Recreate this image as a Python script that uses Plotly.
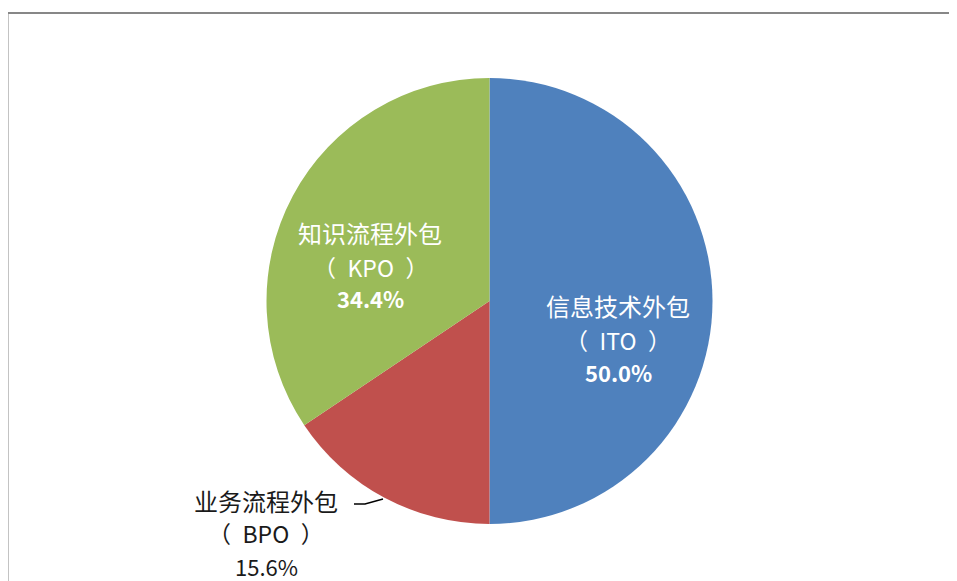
import plotly.graph_objects as go

labels = ["信息技术外包", "业务流程外包", "知识流程外包"]
abbrs = ["ITO", "BPO", "KPO"]
values = [50.0, 15.6, 34.4]
colors = ["#4F81BD", "#C0504D", "#9BBB59"]

OFF = 8  # page body margin offset
W, H = 957 - OFF, 581 - OFF
def px(x):
    return (x - OFF) / W
def py(y):
    return 1 - (y - OFF) / H

fig = go.Figure(go.Pie(
    labels=labels, values=values, sort=False, direction="clockwise", rotation=0,
    marker=dict(colors=colors, line=dict(width=0)),
    textinfo="none", showlegend=False,
    domain=dict(x=[px(489.5 - 223), px(489.5 + 223)], y=[py(524), py(78)]),
))

# label positions (pixel centres) and styling per slice
label_pos = [(618, [305, 340, 372]), (266, [500, 533, 566]), (370, [232, 267, 298])]
label_col = ["white", "#1a1a1a", "white"]
pct_bold = [True, False, True]

annotations = []
for i, (cx, ys) in enumerate(label_pos):
    pct = f"{values[i]:.1f}%"
    if pct_bold[i]:
        pct = f"<b>{pct}</b>"
    lines = [labels[i], f"（\u2002{abbrs[i]}\u2002）", pct]
    sizes = [24, 23, 22]
    for t, yy, s in zip(lines, ys, sizes):
        annotations.append(dict(
            x=px(cx), y=py(yy), xref="paper", yref="paper", text=t, showarrow=False,
            xanchor="center", yanchor="middle",
            font=dict(family="Noto Sans CJK SC", size=s, color=label_col[i]),
        ))

fig.update_layout(
    width=W, height=H, margin=dict(l=0, r=0, t=0, b=0),
    paper_bgcolor="white", plot_bgcolor="white",
    annotations=annotations,
    shapes=[
        dict(type="rect", xref="paper", yref="paper", x0=px(7.5), y0=-0.05, x1=1.05, y1=py(13),
             line=dict(color="#878787", width=2), fillcolor="rgba(0,0,0,0)"),
        dict(type="path", xref="paper", yref="paper",
             path=f"M {px(354)} {py(504)} L {px(365)} {py(504)} L {px(383)} {py(499)}",
             line=dict(color="#000000", width=1.5)),
    ],
)

fig.write_html("out.html")
